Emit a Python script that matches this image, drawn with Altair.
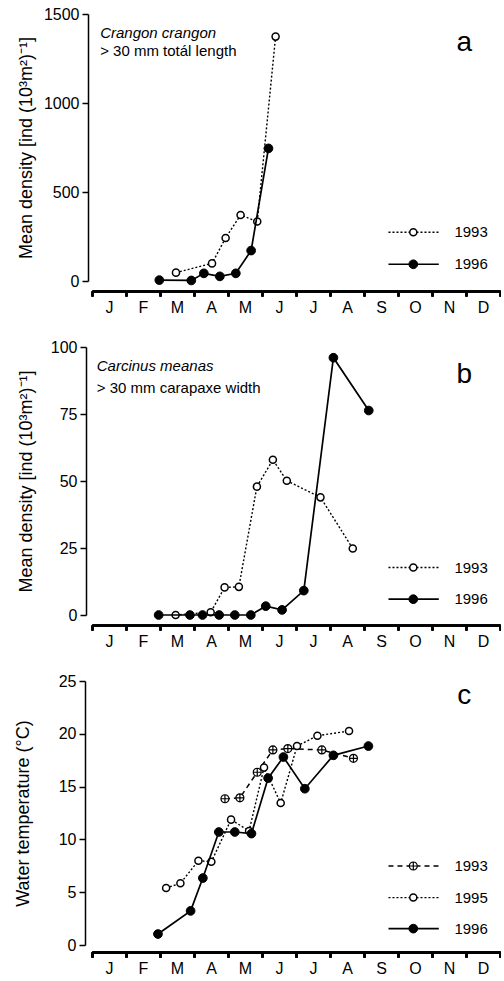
import json
import altair as alt
import pandas as pd

FONT = "Liberation Sans"
MONTHS = ["J", "F", "M", "A", "M", "J", "J", "A", "S", "O", "N", "D"]
MONTH_MID = [i + 0.5 for i in range(12)]
MONTH_EDGES = list(range(13))

# ---- Panel a: Crangon crangon (> 30 mm total length) ----
a93_m = [2.47, 3.53, 3.93, 4.37, 4.86, 5.40]
a93_v = [47, 99, 242, 371, 334, 1373]
a96_m = [1.98, 2.92, 3.29, 3.76, 4.23, 4.68, 5.19]
a96_v = [5, 3, 43, 26, 43, 171, 745]

# ---- Panel b: Carcinus meanas (> 30 mm carapaxe width) ----
b93_m = [2.46, 3.49, 3.90, 4.32, 4.85, 5.32, 5.73, 6.72, 7.67]
b93_v = [0, 1, 10.3, 10.5, 47.9, 57.9, 50.1, 43.9, 24.8]
b96_m = [1.96, 2.88, 3.25, 3.74, 4.20, 4.67, 5.11, 5.59, 6.23, 7.10, 8.14]
b96_v = [0, 0, 0, 0, 0, 0, 3.3, 1.9, 9.1, 96.0, 76.3]

# ---- Panel c: water temperature ----
c93_m = [3.91, 4.35, 4.86, 5.32, 5.76, 6.76, 7.69]
c93_v = [13.85, 13.94, 16.36, 18.47, 18.6, 18.47, 17.68]
c95_m = [2.18, 2.60, 3.13, 3.51, 4.09, 4.62, 5.06, 5.55, 6.03, 6.63, 7.56]
c95_v = [5.4, 5.84, 7.98, 7.88, 11.87, 10.8, 16.8, 13.44, 18.84, 19.82, 20.26]
c96_m = [1.94, 2.90, 3.26, 3.73, 4.20, 4.69, 5.18, 5.63, 6.26, 7.10, 8.13]
c96_v = [1.04, 3.23, 6.34, 10.7, 10.7, 10.55, 15.8, 17.8, 14.8, 17.96, 18.84]

# legend entries (year labels) and their vertical positions in data units
a_leg_years = ["1993", "1996"]
a_leg_v = [274, 94]
b_leg_years = ["1993", "1996"]
b_leg_v = [17.7, 5.9]
c_leg_years = ["1993", "1995", "1996"]
c_leg_v = [7.48, 4.49, 1.55]
LEG_X0, LEG_X1, LEG_XM, LEG_XT = 8.72, 10.2, 9.45, 10.66

# panel annotation texts
a_species, a_size = "Crangon crangon", "> 30 mm totál length"
b_species, b_size = "Carcinus meanas", "> 30 mm carapaxe width"

Y_TITLE_DENS = "Mean density [ind (10³m²)⁻¹]"
Y_TITLE_TEMP = "Water temperature (°C)"

W = 408

LABEL_EXPR = "%s[round(datum.value - 0.5)]" % json.dumps(MONTHS)

STYLES = {
    "dotted_open": dict(
        line=dict(strokeDash=[2, 2], strokeWidth=1.4),
        point=dict(shape="circle", size=50, filled=True, fill="white",
                   stroke="black", strokeWidth=1.5, opacity=1),
    ),
    "solid_filled": dict(
        line=dict(strokeWidth=1.7),
        point=dict(shape="circle", size=76, filled=True, fill="black",
                   stroke="black", strokeWidth=1, opacity=1),
    ),
    "dashed_cross": dict(
        line=dict(strokeDash=[5, 4], strokeWidth=1.5),
        point=dict(shape="M1,0A1,1 0 1,1 -1,0A1,1 0 1,1 1,0Z M-1,0L1,0 M0,-1L0,1",
                   size=64, filled=True, fill="white", stroke="black",
                   strokeWidth=1.2, opacity=1),
    ),
}


def make_panel(series, ymax, yvals, ytitle, yoff, xoff, h, title_x,
               leg_years, leg_v, leg_styles, letter, letter_v,
               notes=None):
    xscale = alt.Scale(domain=[0, 12], nice=False, zero=False)
    yscale = alt.Scale(domain=[0, ymax], nice=False, zero=False)
    # axis with the month boundary ticks (no labels)
    xaxis = alt.Axis(values=MONTH_EDGES, labels=False, offset=xoff, tickSize=5,
                     title=None, grid=False, orient="bottom")
    # axis with month letters centred between ticks (no ticks / line)
    xaxis_lab = alt.Axis(values=MONTH_MID, labelExpr=LABEL_EXPR, offset=xoff,
                         ticks=False, tickSize=0, domain=False, labelPadding=8,
                         labelFlush=False, labelOverlap=False, title=None,
                         grid=False, orient="bottom")
    yaxis = alt.Axis(values=yvals, offset=yoff, tickSize=6, labelPadding=3,
                     title=ytitle, titleX=title_x, grid=False, format="d",
                     labelFlush=False, labelOverlap=False)

    def X(f, ax=xaxis):
        return alt.X(f"{f}:Q", scale=xscale, axis=ax)

    def Y(f):
        return alt.Y(f"{f}:Q", scale=yscale, axis=yaxis)

    layers = []
    for ms, vs, st in series:
        df = pd.DataFrame({"m": ms, "v": vs})
        sty = STYLES[st]
        layers.append(alt.Chart(df).mark_line(color="black", **sty["line"]).encode(x=X("m"), y=Y("v")))
        layers.append(alt.Chart(df).mark_point(**sty["point"]).encode(x=X("m"), y=Y("v")))

    # legend
    for yr, v, st in zip(leg_years, leg_v, leg_styles):
        sty = STYLES[st]
        ldf = pd.DataFrame({"x0": [LEG_X0], "x1": [LEG_X1], "xm": [LEG_XM],
                            "xt": [LEG_XT], "v": [v], "t": [yr]})
        lc = alt.Chart(ldf)
        layers.append(lc.mark_rule(color="black", **sty["line"]).encode(
            x=X("x0"), x2="x1", y=Y("v")))
        layers.append(lc.mark_point(**sty["point"]).encode(x=X("xm"), y=Y("v")))
        layers.append(lc.mark_text(align="left", baseline="middle", fontSize=15,
                                   font=FONT, color="black").encode(
            x=X("xt"), y=Y("v"), text="t:N"))

    if notes:
        for (x, v, t, italic) in notes:
            ndf = pd.DataFrame({"x": [x], "v": [v], "t": [t]})
            kw = dict(fontStyle="italic") if italic else {}
            layers.append(alt.Chart(ndf).mark_text(align="left", baseline="alphabetic",
                                                   fontSize=15, font=FONT, color="black",
                                                   **kw).encode(
                x=X("x"), y=Y("v"), text="t:N"))

    # panel letter (this layer carries the month-letter axis)
    ldf = pd.DataFrame({"x": [10.95], "v": [letter_v], "t": [letter]})
    layers.append(alt.Chart(ldf).mark_text(align="center", baseline="alphabetic",
                                           fontSize=28, font=FONT, color="black").encode(
        x=X("x", xaxis_lab), y=Y("v"), text="t:N"))

    return alt.layer(*layers).resolve_axis(x="independent").properties(width=W, height=h)


pa = make_panel(
    [(a93_m, a93_v, "dotted_open"), (a96_m, a96_v, "solid_filled")],
    1500, [0, 500, 1000, 1500], Y_TITLE_DENS, 4, 10, 267, -52.5,
    a_leg_years, a_leg_v, ["dotted_open", "solid_filled"], "a", 1292,
    notes=[(0.24, 1367, a_species, True), (0.24, 1264, a_size, False)],
)
pb = make_panel(
    [(b93_m, b93_v, "dotted_open"), (b96_m, b96_v, "solid_filled")],
    100, [0, 25, 50, 75, 100], Y_TITLE_DENS, 6, 10, 268, -51,
    b_leg_years, b_leg_v, ["dotted_open", "solid_filled"], "b", 86.7,
    notes=[(0.14, 91.0, b_species, True), (0.14, 83.0, b_size, False)],
)
pc = make_panel(
    [(c93_m, c93_v, "dashed_cross"), (c95_m, c95_v, "dotted_open"),
     (c96_m, c96_v, "solid_filled")],
    25, [0, 5, 10, 15, 20, 25], Y_TITLE_TEMP, 7, 7, 264, -53,
    c_leg_years, c_leg_v, ["dashed_cross", "dotted_open", "solid_filled"], "c", 22.8,
)

chart = alt.vconcat(pa, pb, pc, spacing=66, bounds="flush").configure(
    font=FONT,
    background="white",
    padding={"left": 13, "top": 6, "right": 0, "bottom": 0},
).configure_view(stroke=None).configure_axis(
    domainColor="black", domainWidth=1.5, tickColor="black", tickWidth=1.5,
    labelColor="black", labelFont=FONT, labelFontSize=16,
    titleColor="black", titleFont=FONT, titleFontSize=18, titleFontWeight="normal",
)

chart.save("out.html", embed_options={"renderer": "svg", "actions": False})
